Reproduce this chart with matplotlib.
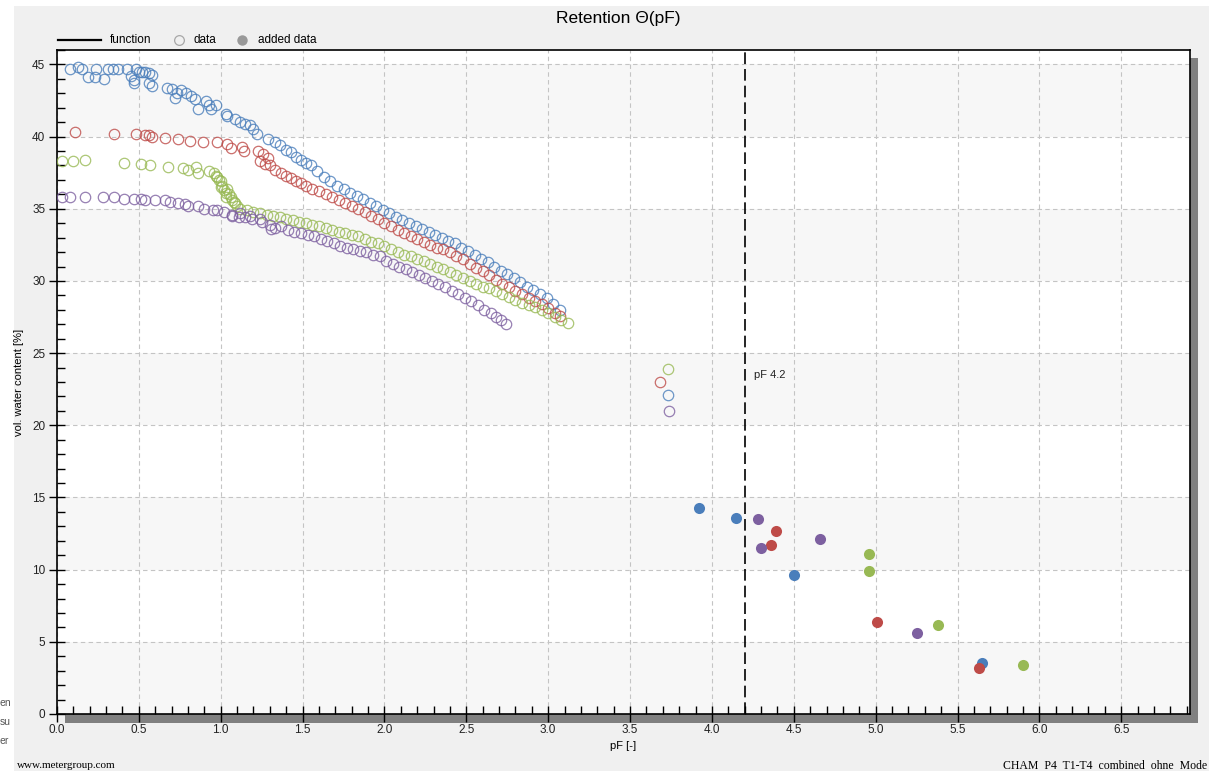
import matplotlib
matplotlib.use("Agg")
import matplotlib.pyplot as plt
from matplotlib.patches import Rectangle
from matplotlib.lines import Line2D

plt.rcParams['font.family'] = ['Liberation Sans', 'DejaVu Sans']

# measured data (open circles), one pair of lists per sample
blue_pf = [0.08, 0.13, 0.15, 0.19, 0.23, 0.24, 0.29, 0.31, 0.34, 0.37, 0.43, 0.45, 0.47, 0.47,
           0.48, 0.50, 0.52, 0.54, 0.56, 0.58, 0.56, 0.58, 0.67, 0.70, 0.72, 0.73, 0.76, 0.79,
           0.82, 0.84, 0.86, 0.91, 0.93, 0.94, 0.97, 1.03, 1.04, 1.09, 1.12, 1.15, 1.18, 1.20,
           1.22, 1.29, 1.33, 1.36, 1.40, 1.43, 1.46, 1.49, 1.52, 1.55,
           1.59, 1.63, 1.67, 1.71, 1.75, 1.79, 1.83, 1.87, 1.91, 1.95, 1.99, 2.03, 2.07, 2.11,
           2.15, 2.19, 2.23, 2.27, 2.31, 2.35, 2.39, 2.43, 2.47, 2.51, 2.55, 2.59, 2.63, 2.67,
           2.71, 2.75, 2.79, 2.83, 2.87, 2.91, 2.95, 2.99, 3.03, 3.07, 3.73]
blue_theta = [44.7, 44.8, 44.7, 44.1, 44.1, 44.7, 44.0, 44.7, 44.7, 44.7, 44.7, 44.2, 43.9, 43.7,
              44.7, 44.5, 44.5, 44.5, 44.4, 44.3, 43.7, 43.5, 43.4, 43.3, 42.7, 43.0, 43.2, 43.0,
              42.8, 42.6, 41.9, 42.5, 42.2, 41.9, 42.2, 41.6, 41.4, 41.2, 41.0, 40.9, 40.8, 40.5,
              40.2, 39.8, 39.6, 39.4, 39.1, 38.9, 38.6, 38.4, 38.2, 38.0,
              37.6, 37.2, 36.9, 36.6, 36.4, 36.1, 35.9, 35.7, 35.4, 35.2, 34.9, 34.7, 34.4, 34.2,
              34.0, 33.8, 33.6, 33.4, 33.2, 33.0, 32.8, 32.6, 32.3, 32.1, 31.8, 31.5, 31.3, 31.0,
              30.7, 30.5, 30.2, 29.9, 29.6, 29.4, 29.1, 28.8, 28.4, 28.0, 22.1]

red_pf = [0.11, 0.35, 0.48, 0.54, 0.56, 0.58, 0.66, 0.74, 0.81, 0.89, 0.98, 1.04, 1.06, 1.13,
          1.14, 1.23, 1.26, 1.24, 1.29, 1.27, 1.30, 1.33, 1.37, 1.40, 1.43, 1.46, 1.49, 1.52,
          1.56, 1.60, 1.64, 1.68, 1.72, 1.76, 1.80, 1.84, 1.88, 1.92, 1.96, 2.00, 2.04, 2.08,
          2.12, 2.16, 2.20, 2.24, 2.28, 2.32, 2.36, 2.40, 2.44, 2.48, 2.52, 2.56, 2.60, 2.64,
          2.68, 2.72, 2.76, 2.80, 2.84, 2.88, 2.92, 2.96, 3.00, 3.04, 3.07, 3.68]
red_theta = [40.3, 40.2, 40.2, 40.1, 40.1, 40.0, 39.9, 39.8, 39.7, 39.6, 39.6, 39.5, 39.2, 39.3,
             39.0, 39.0, 38.8, 38.3, 38.5, 38.1, 38.0, 37.7, 37.5, 37.3, 37.1, 36.9, 36.8, 36.6,
             36.4, 36.2, 36.0, 35.8, 35.6, 35.4, 35.2, 35.0, 34.8, 34.5, 34.3, 34.0, 33.8, 33.5,
             33.3, 33.1, 32.9, 32.7, 32.5, 32.3, 32.2, 32.0, 31.7, 31.5, 31.2, 30.9, 30.7, 30.4,
             30.1, 29.8, 29.6, 29.3, 29.1, 28.8, 28.6, 28.4, 28.1, 27.8, 27.6, 23.0]

green_pf = [0.03, 0.10, 0.17, 0.41, 0.51, 0.57, 0.68, 0.77, 0.80, 0.85, 0.86, 0.93, 0.96, 0.97,
            0.98, 0.99, 1.00, 1.00, 1.01, 1.02, 1.03, 1.04, 1.05, 1.03, 1.06, 1.07, 1.08, 1.09,
            1.10, 1.12,
            1.16, 1.20, 1.24, 1.28, 1.32, 1.36, 1.40, 1.44, 1.48, 1.52, 1.56, 1.60, 1.64, 1.68,
            1.72, 1.76, 1.80, 1.84, 1.88, 1.92, 1.96, 2.00, 2.04, 2.08, 2.12, 2.16, 2.20, 2.24,
            2.28, 2.32, 2.36, 2.40, 2.44, 2.48, 2.52, 2.56, 2.60, 2.64, 2.68, 2.72, 2.76, 2.80,
            2.84, 2.88, 2.92, 2.96, 3.00, 3.04, 3.08, 3.12, 3.73]
green_theta = [38.3, 38.3, 38.4, 38.2, 38.1, 38.0, 37.9, 37.8, 37.7, 37.9, 37.5, 37.6, 37.5, 37.3,
               37.2, 37.0, 36.9, 36.5, 36.6, 36.3, 36.1, 36.4, 36.0, 35.8, 35.8, 35.6, 35.5, 35.4,
               35.2, 35.0,
               34.9, 34.8, 34.7, 34.6, 34.5, 34.4, 34.3, 34.2, 34.1, 34.0, 33.9, 33.8, 33.7, 33.5,
               33.4, 33.3, 33.2, 33.1, 32.9, 32.7, 32.6, 32.4, 32.2, 32.0, 31.8, 31.7, 31.5, 31.4,
               31.2, 31.0, 30.8, 30.6, 30.4, 30.2, 30.0, 29.8, 29.6, 29.5, 29.3, 29.1, 28.9, 28.7,
               28.5, 28.3, 28.2, 28.0, 27.8, 27.5, 27.3, 27.1, 23.9]

purple_pf = [0.03, 0.08, 0.17, 0.28, 0.35, 0.41, 0.47, 0.51, 0.54, 0.60, 0.66, 0.69, 0.74, 0.78,
             0.80, 0.86, 0.90, 0.95, 0.98, 1.02, 1.07, 1.07, 1.11, 1.12, 1.15, 1.18, 1.19, 1.24,
             1.25, 1.30, 1.33, 1.37, 1.31,
             1.41, 1.45, 1.49, 1.53, 1.57, 1.61, 1.65, 1.69, 1.73, 1.77, 1.81, 1.85, 1.89, 1.93,
             1.97, 2.01, 2.05, 2.09, 2.13, 2.17, 2.21, 2.25, 2.29, 2.33, 2.37, 2.41, 2.45, 2.49,
             2.53, 2.57, 2.61, 2.65, 2.68, 2.71, 2.74, 3.74]
purple_theta = [35.8, 35.8, 35.8, 35.8, 35.8, 35.7, 35.7, 35.7, 35.6, 35.6, 35.6, 35.5, 35.4, 35.3,
                35.2, 35.2, 35.0, 34.9, 34.9, 34.8, 34.6, 34.5, 34.4, 34.7, 34.4, 34.5, 34.3, 34.3,
                34.1, 33.9, 33.7, 33.8, 33.6,
                33.5, 33.4, 33.3, 33.2, 33.1, 32.9, 32.8, 32.6, 32.4, 32.3, 32.2, 32.1, 32.0, 31.8,
                31.7, 31.4, 31.2, 31.0, 30.8, 30.6, 30.4, 30.2, 30.0, 29.8, 29.6, 29.3, 29.1, 28.8,
                28.6, 28.3, 28.0, 27.8, 27.5, 27.3, 27.0, 21.0]

# added data (filled dots)
blue_add_pf = [3.92, 4.15, 4.50, 5.65]
blue_add_theta = [14.3, 13.6, 9.6, 3.5]
red_add_pf = [4.39, 4.36, 5.01, 5.63]
red_add_theta = [12.7, 11.7, 6.4, 3.2]
green_add_pf = [4.96, 4.96, 5.38, 5.90]
green_add_theta = [11.1, 9.9, 6.2, 3.4]
purple_add_pf = [4.28, 4.30, 4.66, 5.25]
purple_add_theta = [13.5, 11.5, 12.1, 5.6]

colors = {'blue': '#4a7ebb', 'red': '#be4b48', 'green': '#98b954', 'purple': '#7d60a0'}

W, H = 1209, 771
fig = plt.figure(figsize=(W / 100, H / 100), dpi=100, facecolor='white')


def fx(px):
    return px / W


def fy(py):
    return 1 - py / H


# grey panel behind everything
fig.patches.append(Rectangle((fx(14), 0), 1 - fx(14), fy(6), transform=fig.transFigure,
                             facecolor='#f0f0f0', edgecolor='none', zorder=-10))
# drop shadow right and bottom of the plot frame
fig.patches.append(Rectangle((fx(65), fy(723)), fx(1198) - fx(65), fy(714) - fy(723),
                             transform=fig.transFigure, facecolor='#808080', edgecolor='none', zorder=-5))
fig.patches.append(Rectangle((fx(1189), fy(723)), fx(1198) - fx(1189), fy(58) - fy(723),
                             transform=fig.transFigure, facecolor='#808080', edgecolor='none', zorder=-5))

ax = fig.add_axes([fx(57), fy(714), fx(1190) - fx(57), fy(50) - fy(714)])
ax.set_facecolor('white')
ax.set_xlim(0, 6.92)
ax.set_ylim(0, 46)

for y0 in range(0, 45, 10):
    ax.axhspan(y0, y0 + 5, color='#f7f7f7', zorder=0, lw=0)

ax.set_axisbelow(True)
ax.grid(True, which='major', color='#c4c4c4', lw=0.8, ls=(0, (4, 3)))

ax.set_xticks([i * 0.5 for i in range(14)])
ax.set_xticklabels(['%.1f' % (i * 0.5) for i in range(14)])
ax.set_xticks([i * 0.1 for i in range(70)], minor=True)
ax.set_yticks(range(0, 46, 5))
ax.set_yticks(range(0, 47), minor=True)
ax.tick_params(which='major', direction='inout', length=11, width=1, labelsize=8.5,
               color='black', labelcolor='#222222')
ax.tick_params(which='minor', direction='in', length=5.5, width=1, color='black')
ax.tick_params(axis='x', which='major', pad=2)
ax.tick_params(axis='y', which='major', pad=3)
for s in ax.spines.values():
    s.set_linewidth(1.2)
    s.set_color('black')

open_sets = [(blue_pf, blue_theta, 'blue'), (red_pf, red_theta, 'red'),
             (green_pf, green_theta, 'green'), (purple_pf, purple_theta, 'purple')]
for pf, th, c in open_sets:
    ax.plot(pf, th, 'o', ms=7.5, mfc='none', mec=colors[c], mew=0.9, alpha=0.8, zorder=3)

add_sets = [(blue_add_pf, blue_add_theta, 'blue'), (red_add_pf, red_add_theta, 'red'),
            (green_add_pf, green_add_theta, 'green'), (purple_add_pf, purple_add_theta, 'purple')]
for pf, th, c in add_sets:
    ax.plot(pf, th, 'o', ms=8, mfc=colors[c], mec=colors[c], mew=0, zorder=4)

# pF 4.2 marker
ax.axvline(4.2, color='black', lw=1.2, ls=(0, (7, 3)), zorder=5)
ax.text(4.26, 23.5, 'pF 4.2', fontsize=8, va='center', ha='left', color='#222222')

ax.set_xlabel('pF [-]', fontsize=8, labelpad=3)
ax.set_ylabel('vol. water content [%]', fontsize=8, labelpad=6)

fig.text(fx(618), fy(18), 'Retention \u0398(pF)', fontsize=12.5, ha='center', va='center')

# legend row above the plot
fig.add_artist(Line2D([fx(58), fx(101)], [fy(40), fy(40)], color='black', lw=1.6,
                      transform=fig.transFigure))
fig.text(fx(110), fy(40), 'function', fontsize=8.5, va='center')
fig.add_artist(Line2D([fx(179)], [fy(40)], marker='o', ms=7, mfc='none', mec='#a8a8a8', mew=0.9,
                      transform=fig.transFigure))
fig.text(fx(194), fy(40), 'data', fontsize=8.5, va='center')
fig.add_artist(Line2D([fx(242)], [fy(40)], marker='o', ms=7.5, mfc='#999999', mec='#999999', mew=0,
                      transform=fig.transFigure))
fig.text(fx(258), fy(40), 'added data', fontsize=8.5, va='center')

# footer
fig.text(fx(17), fy(766), 'www.metergroup.com', fontsize=8, family='Liberation Serif', va='center')
fig.text(fx(1003), fy(766), 'CHAM  P4  T1-T4  combined  ohne  Mode', fontsize=8.5,
         family='Liberation Serif', va='center')

# remains of a side panel cut off at the left edge
for py, s in [(703, 'en'), (722, 'su'), (741, 'er')]:
    fig.text(fx(0), fy(py), s, fontsize=7.5, color='#555555', va='center')

fig.savefig('out.png', dpi=100, facecolor=fig.get_facecolor())
